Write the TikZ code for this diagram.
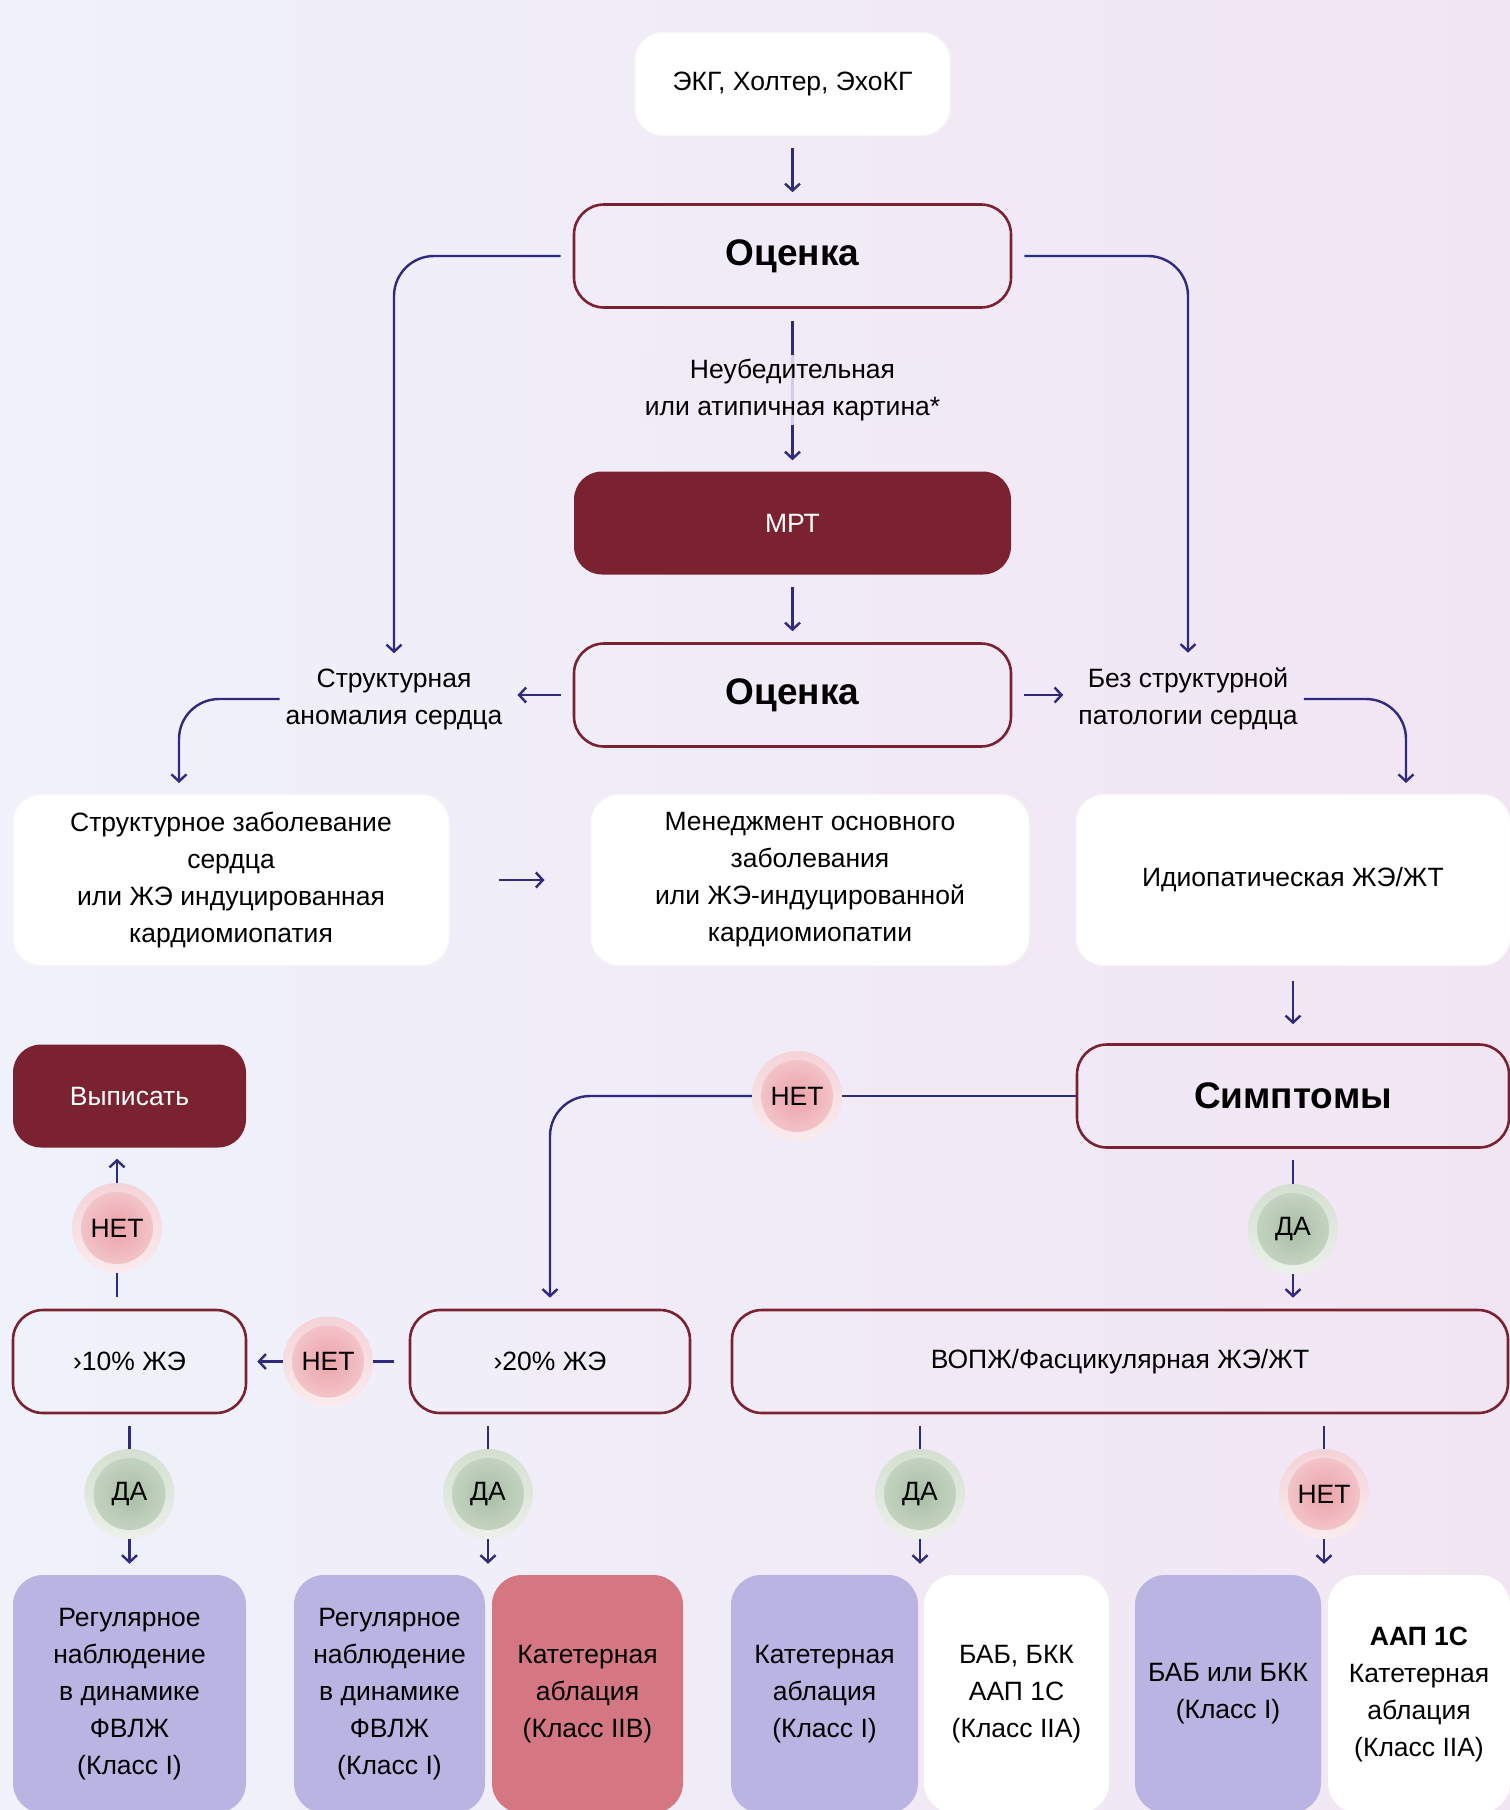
\documentclass[tikz,border=0pt]{standalone}
\usepackage{fontspec}
\setmainfont{Liberation Sans}
\usetikzlibrary{arrows.meta}

\definecolor{bgleft}{HTML}{EFF2FB}
\definecolor{bgright}{HTML}{F2E5F3}
\definecolor{wine}{HTML}{7B2230}
\definecolor{ink}{HTML}{2F2A7E}
\definecolor{lilac}{HTML}{B9B4E2}
\definecolor{rose}{HTML}{D47782}
\definecolor{nocore}{HTML}{EBA2AA}
\definecolor{nohalo}{HTML}{F4D3D8}
\definecolor{yescore}{HTML}{A8BEA4}
\definecolor{yeshalo}{HTML}{D4DFD1}

\newcommand{\normtxt}{\fontsize{26.5pt}{37pt}\selectfont}
\newcommand{\headtxt}{\fontsize{37pt}{40pt}\selectfont\bfseries}

\begin{document}
\begin{tikzpicture}[x=1pt, y=-1pt,
  plain/.style={rectangle, rounded corners=28pt, fill=white, draw=white!88!lilac, line width=1pt, align=center, font=\normtxt},
  eval/.style={rectangle, rounded corners=30pt, draw=wine, line width=2.6pt, align=center, font=\normtxt},
  dark/.style={rectangle, rounded corners=28pt, fill=wine, text=white, align=center, font=\normtxt},
  lil/.style={rectangle, rounded corners=30pt, fill=lilac, align=center, font=\normtxt, minimum height=238pt},
  red/.style={rectangle, rounded corners=30pt, fill=rose, align=center, font=\normtxt, minimum height=238pt},
  wht/.style={rectangle, rounded corners=30pt, fill=white, align=center, font=\normtxt, minimum height=238pt},
  lbl/.style={align=center, font=\normtxt, inner sep=4pt},
  no/.style={circle, minimum size=90pt, inner sep=0pt, font=\normtxt, top color=nohalo, bottom color=white!55!nohalo,
    path picture={\shade[inner color=nocore, outer color=nocore!55!white] (path picture bounding box.center) circle (36pt);}},
  yes/.style={circle, minimum size=90pt, inner sep=0pt, font=\normtxt, top color=yeshalo, bottom color=white!55!yeshalo,
    path picture={\shade[inner color=yescore, outer color=yescore!60!white] (path picture bounding box.center) circle (36pt);}},
  n/.style={draw=ink, line width=2.4pt, -{Straight Barb[length=7pt, width=15pt, line width=2.4pt]}, shorten >=11pt, shorten <=12pt},
  l/.style={draw=ink, line width=2.4pt}]
  % background
  \clip (0,0) rectangle (1510,1810);
  \shade[left color=bgleft, right color=bgright] (0,0) rectangle (1510,1810);

  % nodes
  \node[plain, minimum width=315pt, minimum height=103pt] (ecg) at (792.5,84) {ЭКГ, Холтер, ЭхоКГ};
  \node[eval, minimum width=437pt, minimum height=103pt, font=\headtxt] (oc1) at (792.5,256) {Оценка};
  \node[dark, minimum width=437pt, minimum height=103pt] (mrt) at (792.5,523) {МРТ};
  \node[eval, minimum width=437pt, minimum height=103pt, font=\headtxt] (oc2) at (792.5,695) {Оценка};

  \node[lbl] (strlbl) at (394,699) {Структурная\\аномалия сердца};
  \node[lbl] (nolbl) at (1188,699) {Без структурной\\патологии сердца};

  \node[plain, minimum width=436pt, minimum height=171pt] (boxA) at (231,880) {Структурное заболевание\\сердца\\или ЖЭ индуцированная\\кардиомиопатия};
  \node[plain, minimum width=438pt, minimum height=171pt] (boxB) at (810,880) {Менеджмент основного\\заболевания\\или ЖЭ-индуцированной\\кардиомиопатии};
  \node[plain, minimum width=434pt, minimum height=171pt] (boxC) at (1293,880) {Идиопатическая ЖЭ/ЖТ};

  \node[dark, minimum width=233pt, minimum height=103pt] (vyp) at (129.5,1096) {Выписать};
  \node[eval, minimum width=432pt, minimum height=103pt, font=\headtxt] (simp) at (1293,1096) {Симптомы};

  \node[eval, minimum width=233pt, minimum height=103pt] (p10) at (129.5,1361.5) {›10\% ЖЭ};
  \node[eval, minimum width=280pt, minimum height=103pt] (p20) at (550,1361.5) {›20\% ЖЭ};
  \node[eval, minimum width=776pt, minimum height=103pt] (vopzh) at (1120,1361.5) {ВОПЖ/Фасцикулярная ЖЭ/ЖТ};

  \node[no] (net1) at (797,1096) {НЕТ};
  \node[yes] (da1) at (1293,1229) {ДА};
  \node[no] (net2) at (117,1228) {НЕТ};
  \node[no] (net3) at (328,1361.5) {НЕТ};

  \node[yes] (da2) at (129.5,1494) {ДА};
  \node[yes] (da3) at (488,1494) {ДА};
  \node[yes] (da4) at (920,1494) {ДА};
  \node[no] (net4) at (1324,1494) {НЕТ};

  \node[lil, minimum width=233pt] (b1) at (129.5,1694) {Регулярное\\наблюдение\\в динамике\\ФВЛЖ\\(Класс I)};
  \node[lil, minimum width=191pt] (b2) at (389.5,1694) {Регулярное\\наблюдение\\в динамике\\ФВЛЖ\\(Класс I)};
  \node[red, minimum width=191pt] (b3) at (587.5,1694) {Катетерная\\аблация\\(Класс IIB)};
  \node[lil, minimum width=187pt] (b4) at (824.5,1694) {Катетерная\\аблация\\(Класс I)};
  \node[wht, minimum width=185pt] (b5) at (1016.5,1694) {БАБ, БКК\\ААП 1С\\(Класс IIA)};
  \node[lil, minimum width=186pt] (b6) at (1228,1694) {БАБ или БКК\\(Класс I)};
  \node[wht, minimum width=182pt] (b7) at (1419,1694) {\textbf{ААП 1С}\\Катетерная\\аблация\\(Класс IIA)};

  \coordinate (aTop) at (179,794);
  \coordinate (cTop) at (1406,794);

  % edges
  \draw[n] (ecg) -- (oc1);
  \draw[n] (oc1) -- node[lbl, midway, fill=bgleft!50!bgright, fill opacity=0.85, text opacity=1] {Неубедительная\\или атипичная картина*} (mrt);
  \draw[n] (mrt) -- (oc2);

  \draw[n, rounded corners=40pt] (oc1.west) -| (strlbl.north);
  \draw[n, rounded corners=40pt] (oc1.east) -| (nolbl.north);
  \draw[n] (oc2.west) -- (oc2.west -| strlbl.east);
  \draw[n] (oc2.east) -- (oc2.east -| nolbl.west);
  \draw[n, rounded corners=40pt, shorten <=2pt] (strlbl.west) -| (aTop);
  \draw[n, rounded corners=40pt, shorten <=2pt] (nolbl.east) -| (cTop);

  \draw[n, shorten <=49pt, shorten >=46pt] (boxA) -- (boxB);
  \draw[n, shorten <=15pt, shorten >=19pt] (boxC) -- (simp);

  \draw[l] (simp.west) -- (net1);
  \draw[n, rounded corners=40pt, shorten <=0pt] (net1) -| (p20);
  \draw[l, shorten <=11pt] (simp) -- (da1);
  \draw[n, shorten <=0pt] (da1) -- (da1 |- vopzh.north);

  \draw[l, shorten <=15pt] (p20) -- (net3);
  \draw[n, shorten <=0pt, shorten >=10pt] (net3) -- (p10);
  \draw[l, shorten <=12pt] (p10.north -| net2) -- (net2);
  \draw[n, shorten <=0pt] (net2) -- (net2 |- vyp.south);

  \draw[l, shorten <=12pt] (p10) -- (da2);
  \draw[n, shorten <=0pt] (da2) -- (b1);
  \draw[l, shorten <=12pt] (p20.south -| da3) -- (da3);
  \draw[n, shorten <=0pt] (da3) -- (da3 |- b2.north);
  \draw[l, shorten <=12pt] (vopzh.south -| da4) -- (da4);
  \draw[n, shorten <=0pt] (da4) -- (da4 |- b4.north);
  \draw[l, shorten <=12pt] (vopzh.south -| net4) -- (net4);
  \draw[n, shorten <=0pt] (net4) -- (net4 |- b6.north);
\end{tikzpicture}
\end{document}
